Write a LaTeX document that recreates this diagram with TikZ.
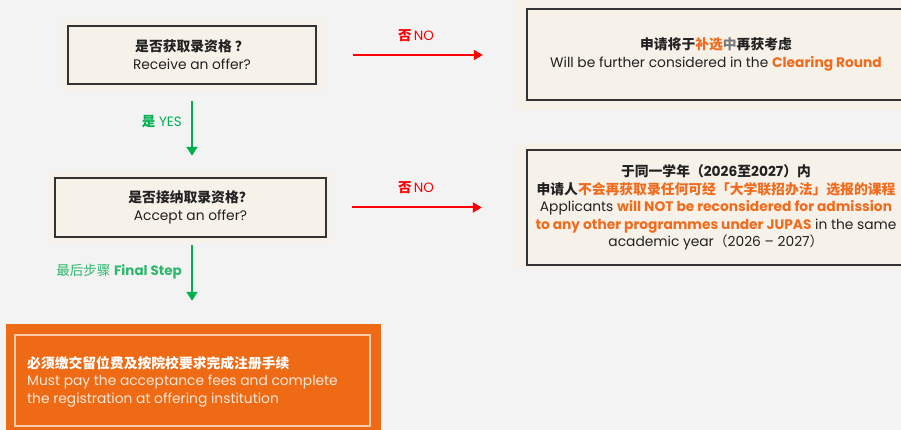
\documentclass[tikz,border=0pt]{standalone}
\usepackage{fontspec}
\setmainfont{Poppins}
\newfontfamily\cjk{Noto Sans CJK SC}
\usetikzlibrary{arrows.meta}
\definecolor{bgc}{HTML}{F3F3F3}
\definecolor{cream}{HTML}{F6F2E9}
\definecolor{framec}{HTML}{333333}
\definecolor{nored}{HTML}{FF0000}
\definecolor{okgreen}{HTML}{00B050}
\definecolor{stepgreen}{HTML}{2DB86C}
\definecolor{orangefill}{HTML}{EE6A15}
\definecolor{orangetext}{HTML}{F26B1D}
\definecolor{txt}{HTML}{222222}
\definecolor{midgray}{HTML}{7A7A7A}
\definecolor{softwhite}{HTML}{FCE6D6}
\definecolor{innerline}{HTML}{F8CBAA}
\newcommand\zh[1]{{\cjk\bfseries #1}}
\begin{document}
\begin{tikzpicture}[x=1pt,y=-1pt,
  bgbox/.style={fill=cream, draw=none, inner sep=0pt},
  qbox/.style={draw=framec, line width=1.2pt, inner sep=0pt, align=center, text=txt,
    font=\fontsize{13.8}{18}\selectfont},
  noarrow/.style={draw=nored, line width=2pt, -{Triangle[width=10pt,length=9pt]}},
  yesarrow/.style={draw=okgreen, line width=2.4pt, -{Triangle[width=11pt,length=9pt]}},
  lbl/.style={inner sep=0pt, font=\fontsize{13.5}{15}\selectfont}
]
\useasboundingbox (0,0) rectangle (901,430);
\fill[bgc] (0,0) rectangle (901,430);

% question 1
\node[bgbox, minimum width=265pt, minimum height=72pt] (q1bg) at (193.5,55) {};
\node[qbox, minimum width=248pt, minimum height=58pt] (q1) at (192,55)
  {\zh{是否获取录资格 ？}\\Receive an offer?};

% question 2
\node[bgbox, minimum width=282pt, minimum height=71pt] (q2bg) at (190,207.5) {};
\node[qbox, minimum width=271pt, minimum height=59pt] (q2) at (190.5,207.5)
  {\zh{是否接纳取录资格？}\\Accept an offer?};

% result 1
\node[bgbox, minimum width=402pt, minimum height=112pt] (r1bg) at (716,54) {};
\node[qbox, minimum width=378pt, minimum height=91pt] (r1) at (716,54.5)
  {\zh{申请将于{\color{orangetext}补选}{\color{midgray}中}再获考虑}\\
   Will be further considered in the {\bfseries\color{orangetext}Clearing Round}};

% result 2
\node[bgbox, minimum width=402pt, minimum height=125pt] (r2bg) at (716,205.5) {};
\node[qbox, minimum width=378pt, minimum height=115pt, font=\fontsize{13.8}{17.5}\selectfont] (r2) at (716,207.5)
  {\zh{于同一学年（}{\bfseries 2026}\zh{至}{\bfseries 2027}\zh{）内}\\
   \zh{申请人}{\color{orangetext}\zh{不会再获取录任何可经「大学联招办法」选报的课程}}\\
   Applicants {\bfseries\color{orangetext}will NOT be reconsidered for admission}\\
   {\bfseries\color{orangetext}to any other programmes under JUPAS} in the same\\
   academic year{\cjk（}2026 – 2027{\cjk）}};

% final box
\node[fill=orangefill, inner sep=0pt, minimum width=375pt, minimum height=113pt] (fbg) at (193.5,380.5) {};
\node[draw=innerline, line width=1.2pt, inner sep=0pt, minimum width=355pt, minimum height=91pt] (fin) at (192.5,380.5) {};
\node[anchor=west, align=left, inner sep=0pt, text=softwhite, font=\fontsize{13.8}{17.5}\selectfont] (ftxt) at (27,381.5)
  {{\color{white}\zh{必须缴交留位费及按院校要求完成注册手续}}\\
   Must pay the acceptance fees and complete\\
   the registration at offering institution};

% connectors
\draw[noarrow] ([xshift=27pt]q1bg.east) -- ([xshift=-32pt]q1bg.east -| r1bg.west) coordinate (n1end);
\draw[noarrow] ([xshift=21pt]q2bg.east) -- ([xshift=-33pt]q2bg.east -| r2bg.west) coordinate (n2end);
\draw[yesarrow] ([xshift=-1.5pt,yshift=-10pt]q1bg.south) -- ([xshift=2pt,yshift=16pt]q2bg.north);
\draw[yesarrow] ([xshift=2pt,yshift=-2pt]q2bg.south) -- ([xshift=-1.5pt,yshift=23pt]fbg.north);

% labels
\node[lbl, text=nored] (l1) at (416,36) {\zh{否}\,NO};
\node[lbl, text=nored] (l2) at (416,188) {\zh{否}\,NO};
\node[lbl, text=okgreen, anchor=east] (l3) at (182,122) {\zh{是} YES};
\node[lbl, text=stepgreen, anchor=east] (l4) at (182,272) {{\cjk 最后步骤} {\bfseries Final Step}};
\end{tikzpicture}
\end{document}
